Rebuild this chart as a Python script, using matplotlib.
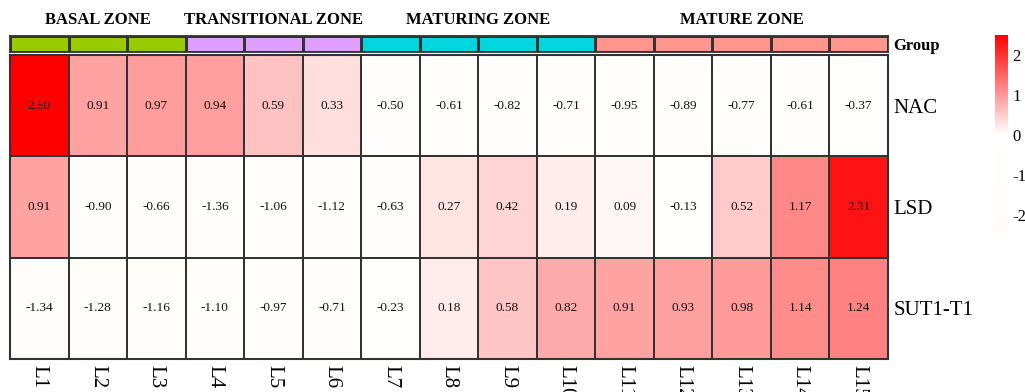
import numpy as np
import matplotlib
matplotlib.use("Agg")
import matplotlib.pyplot as plt
from matplotlib.colors import LinearSegmentedColormap, ListedColormap

plt.rcParams['font.family'] = ['Liberation Serif', 'DejaVu Serif']
plt.rcParams['axes.unicode_minus'] = False

# データ
samples = ["L1", "L2", "L3", "L4", "L5", "L6", "L7", "L8", "L9", "L10",
           "L11", "L12", "L13", "L14", "L15"]
genes = ["NAC", "LSD", "SUT1-T1"]
nac = [2.50, 0.91, 0.97, 0.94, 0.59, 0.33, -0.50, -0.61, -0.82, -0.71,
       -0.95, -0.89, -0.77, -0.61, -0.37]
lsd = [0.91, -0.90, -0.66, -1.36, -1.06, -1.12, -0.63, 0.27, 0.42, 0.19,
       0.09, -0.13, 0.52, 1.17, 2.31]
sut1 = [-1.34, -1.28, -1.16, -1.10, -0.97, -0.71, -0.23, 0.18, 0.58, 0.82,
        0.91, 0.93, 0.98, 1.14, 1.24]
zones = ["BASAL ZONE", "TRANSITIONAL ZONE", "MATURING ZONE", "MATURE ZONE"]
zone_sizes = [3, 3, 4, 5]
zone_colors = ["#99cc00", "#e09eff", "#00d6e0", "#ff968e"]
cbar_ticks = [-2, -1, 0, 1, 2]

vmin, vmax = -2.45, 2.5
values = np.array([nac, lsd, sut1])
n = len(samples)

zero = (0 - vmin) / (vmax - vmin)
cmap = LinearSegmentedColormap.from_list(
    "wr", [(0, "#fffcf6"), (zero, "#ffffff"), (1, "#ff0000")])

W, H = 1025, 392
fig = plt.figure(figsize=(W / 100, H / 100), dpi=100)

def frac(x0, y0, x1, y1):
    return [x0 / W, 1 - y1 / H, (x1 - x0) / W, (y1 - y0) / H]

# ヒートマップ
ax = fig.add_axes(frac(10, 55, 888, 359))
ax.pcolormesh(values, cmap=cmap, vmin=vmin, vmax=vmax,
              edgecolors="#333333", linewidth=1.2)
ax.set_xlim(0, n)
ax.set_ylim(len(genes), 0)
for i in range(len(genes)):
    for j in range(n):
        ax.text(j + 0.5, i + 0.5, f"{values[i, j]:.2f}", ha="center",
                va="center", fontsize=9.5, color="#111111")
ax.set_xticks(np.arange(n) + 0.5)
ax.set_xticklabels(samples, rotation=-90, fontsize=15, va="top")
ax.set_yticks(np.arange(len(genes)) + 0.5)
ax.set_yticklabels(genes, fontsize=15)
ax.yaxis.tick_right()
ax.tick_params(length=0, pad=4)
for s in ax.spines.values():
    s.set_linewidth(1.5)
    s.set_color("#333333")

# グループバー
gax = fig.add_axes(frac(10, 36, 888, 52))
group_idx = np.repeat(np.arange(len(zones)), zone_sizes)
gax.pcolormesh(group_idx[None, :], cmap=ListedColormap(zone_colors),
               vmin=-0.5, vmax=len(zones) - 0.5,
               edgecolors="#333333", linewidth=0.9)
gax.set_xlim(0, n)
gax.set_xticks([])
gax.set_yticks([0.5])
gax.set_yticklabels(["Group"], fontsize=12, fontweight="bold")
gax.yaxis.tick_right()
gax.tick_params(length=0, pad=4)
for s in gax.spines.values():
    s.set_linewidth(1.3)
    s.set_color("#333333")
start = 0
for name, size in zip(zones, zone_sizes):
    gax.text(start + size / 2, 2.0, name, ha="center", va="center",
             fontsize=12, fontweight="bold", transform=gax.transData)
    start += size

# カラーバー
cax = fig.add_axes(frac(995, 35, 1008, 233))
sm = plt.cm.ScalarMappable(cmap=cmap, norm=plt.Normalize(vmin, vmax))
cb = fig.colorbar(sm, cax=cax, ticks=cbar_ticks)
cb.outline.set_visible(False)
cb.ax.set_yticklabels([str(t) for t in cbar_ticks])
cb.ax.tick_params(length=0, labelsize=12, pad=3)

fig.savefig("out.png", dpi=100)
